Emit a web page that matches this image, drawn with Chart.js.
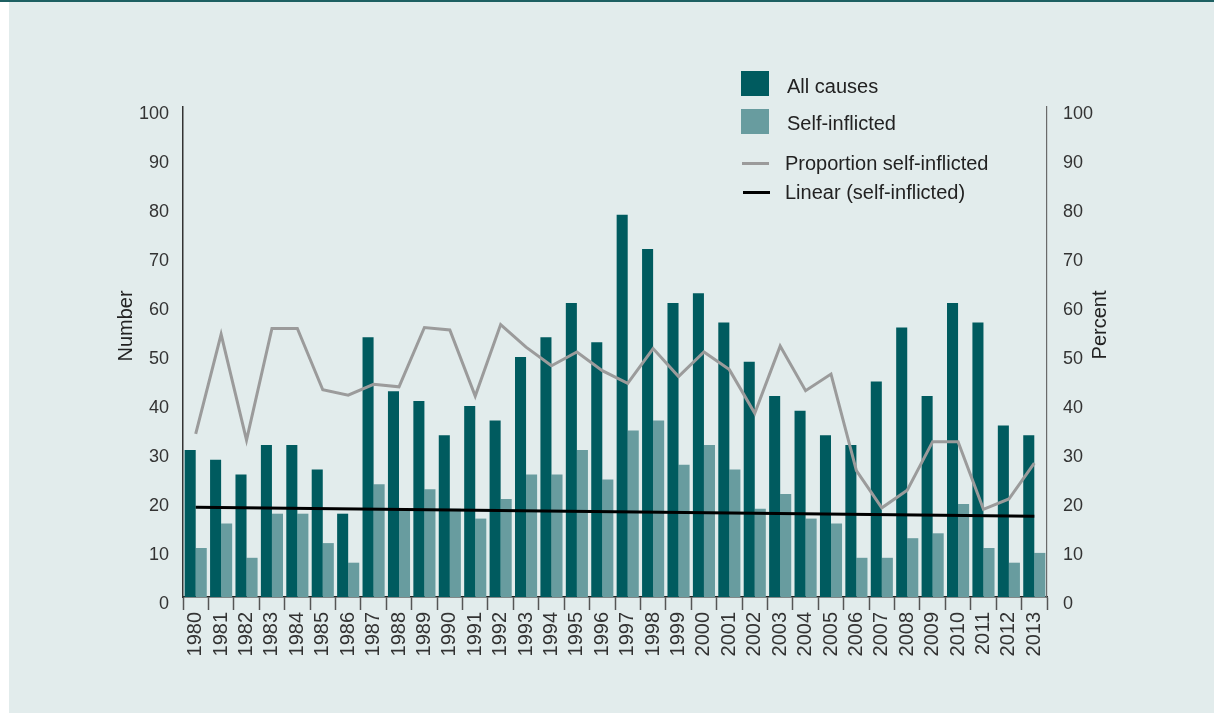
<!DOCTYPE html>
<html>
<head>
<meta charset="utf-8">
<script src="https://cdn.jsdelivr.net/npm/chart.js@4.4.1/dist/chart.umd.min.js"></script>
<style>
    html, body { margin: 0; padding: 0; background: #ffffff; }
    #panel {
        position: absolute; left: 9px; top: 0; width: 1205px; height: 711px;
        background: #e2ecec; border-top: 2px solid #1d6062;
    }
    #topline { position: absolute; left: 0; top: 0; width: 9px; height: 2px; background: #1d6062; }
    #chart { position: absolute; left: 0; top: 0; }
</style>
</head>
<body>
<div id="panel"></div>
<div id="topline"></div>
<canvas id="chart" width="1214" height="713"></canvas>
<script>
// Datos
const years = ['1980', '1981', '1982', '1983', '1984', '1985', '1986', '1987', '1988', '1989',
    '1990', '1991', '1992', '1993', '1994', '1995', '1996', '1997', '1998', '1999',
    '2000', '2001', '2002', '2003', '2004', '2005', '2006', '2007', '2008', '2009',
    '2010', '2011', '2012', '2013'];

const allCauses = [30, 28, 25, 31, 31, 26, 17, 53, 42, 40,
    33, 39, 36, 49, 53, 60, 52, 78, 71, 60,
    62, 56, 48, 41, 38, 33, 31, 44, 55, 41,
    60, 56, 35, 33];

const selfInflicted = [10, 15, 8, 17, 17, 11, 7, 23, 18, 22,
    18, 16, 20, 25, 25, 30, 24, 34, 36, 27,
    31, 26, 18, 21, 16, 15, 8, 8, 12, 13,
    19, 10, 7, 9];

const proportion = [33.3, 53.6, 32.0, 54.8, 54.8, 42.3, 41.2, 43.4, 42.9, 55.0,
    54.5, 41.0, 55.6, 51.0, 47.2, 50.0, 46.2, 43.6, 50.7, 45.0,
    50.0, 46.4, 37.5, 51.2, 42.1, 45.5, 25.8, 18.2, 21.8, 31.7,
    31.7, 17.9, 20.0, 27.3];

// Línea de tendencia: sólo los extremos (1980 y 2013)
const trendEnds = [18.3, 16.5];

const yTicks = [0, 10, 20, 30, 40, 50, 60, 70, 80, 90, 100];

const trend = years.map((y, i) => i === 0 ? trendEnds[0] : (i === years.length - 1 ? trendEnds[1] : null));

const FONT = '"Liberation Sans", Arial, Helvetica, sans-serif';
Chart.defaults.font.family = FONT;
Chart.defaults.color = '#2b2b2b';

// Leyenda y títulos de eje dibujados a mano
const extras = {
    id: 'extras',
    afterDraw(chart) {
        const ctx = chart.ctx;
        const ds = chart.data.datasets;
        ctx.save();
        ctx.font = '20px ' + FONT;
        ctx.textBaseline = 'middle';

        // cuadros
        ctx.fillStyle = ds[0].backgroundColor;
        ctx.fillRect(741, 71, 28, 25);
        ctx.fillStyle = ds[1].backgroundColor;
        ctx.fillRect(741, 109, 28, 25);
        // líneas
        ctx.lineWidth = 3;
        ctx.strokeStyle = ds[2].borderColor;
        ctx.beginPath(); ctx.moveTo(742, 163.5); ctx.lineTo(769, 163.5); ctx.stroke();
        ctx.strokeStyle = ds[3].borderColor;
        ctx.beginPath(); ctx.moveTo(743, 192.5); ctx.lineTo(770, 192.5); ctx.stroke();

        ctx.fillStyle = '#222';
        ctx.fillText(ds[0].label, 787, 87);
        ctx.fillText(ds[1].label, 787, 124);
        ctx.fillText(ds[2].label, 785, 164);
        ctx.fillText(ds[3].label, 785, 193);

        // títulos de eje
        ctx.textAlign = 'center';
        ctx.translate(126, 326);
        ctx.rotate(-Math.PI / 2);
        ctx.fillText('Number', 0, 0);
        ctx.restore();

        ctx.save();
        ctx.font = '20px ' + FONT;
        ctx.fillStyle = '#222';
        ctx.textBaseline = 'middle';
        ctx.textAlign = 'center';
        ctx.translate(1100, 325);
        ctx.rotate(-Math.PI / 2);
        ctx.fillText('Percent', 0, 0);
        ctx.restore();
    }
};

new Chart(document.getElementById('chart'), {
    data: {
        labels: years,
        datasets: [
            {
                type: 'bar', label: 'All causes', data: allCauses, yAxisID: 'y',
                backgroundColor: '#005b5f', categoryPercentage: 0.87, barPercentage: 1, order: 3
            },
            {
                type: 'bar', label: 'Self-inflicted', data: selfInflicted, yAxisID: 'y',
                backgroundColor: '#689c9f', categoryPercentage: 0.87, barPercentage: 1, order: 3
            },
            {
                type: 'line', label: 'Proportion self-inflicted', data: proportion, yAxisID: 'y1',
                borderColor: '#9b9b9b', borderWidth: 3, pointRadius: 0, tension: 0, fill: false, order: 2
            },
            {
                type: 'line', label: 'Linear (self-inflicted)', data: trend, yAxisID: 'y',
                borderColor: '#000000', borderWidth: 3, pointRadius: 0, spanGaps: true, fill: false, order: 1
            }
        ]
    },
    options: {
        responsive: false,
        animation: false,
        devicePixelRatio: 1,
        layout: { padding: { top: 107, left: 0, right: 0, bottom: 0 } },
        plugins: { legend: { display: false }, tooltip: { enabled: false } },
        scales: {
            x: {
                type: 'category',
                offset: true,
                afterFit: (s) => { s.height = 116; },
                grid: { offset: true, drawOnChartArea: false, drawTicks: true, tickLength: 13, tickColor: '#555', tickWidth: 1.5 },
                border: { display: true, color: '#222', width: 1.5 },
                ticks: { autoSkip: false, minRotation: 90, maxRotation: 90, padding: 2, font: { size: 20 }, color: '#333' }
            },
            y: {
                position: 'left',
                min: 0, max: 100,
                afterFit: (s) => { s.width = 183; },
                afterBuildTicks: (s) => { s.ticks = yTicks.map(v => ({ value: v })); },
                grid: { display: false, drawTicks: false },
                border: { display: true, color: '#333', width: 1.5 },
                ticks: { padding: 14, labelOffset: 7, font: { size: 18 }, color: '#333' }
            },
            y1: {
                position: 'right',
                min: 0, max: 100,
                afterFit: (s) => { s.width = 167; },
                afterBuildTicks: (s) => { s.ticks = yTicks.map(v => ({ value: v })); },
                grid: { display: false, drawTicks: false },
                border: { display: true, color: '#6a6a6a', width: 1.2 },
                ticks: { padding: 16, labelOffset: 7, font: { size: 18 }, color: '#333' }
            }
        }
    },
    plugins: [extras]
});
</script>
</body>
</html>
